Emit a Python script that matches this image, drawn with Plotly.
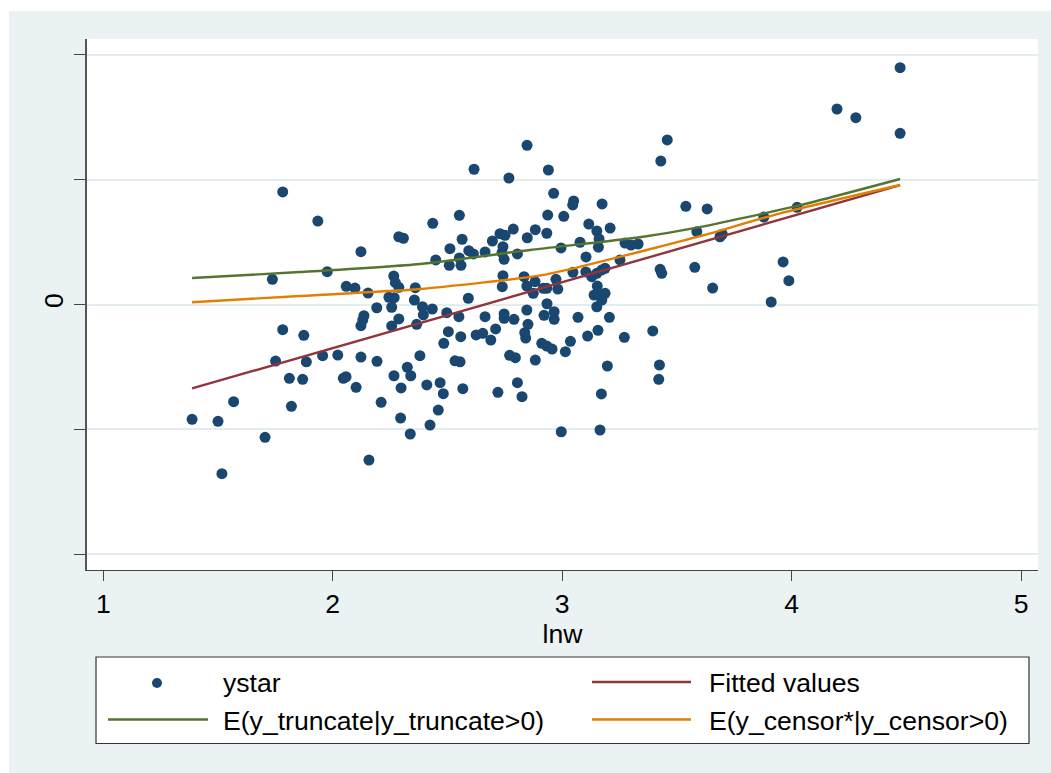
import plotly.graph_objects as go

# ---------------- data ----------------
lnw = [
    1.782, 1.935, 2.123, 2.288, 2.308, 1.976, 1.737, 2.059, 2.097, 2.154, 2.266, 2.273, 2.288, 2.245, 2.268,
    2.360, 2.356, 2.192, 2.257, 2.136, 2.131, 2.123, 2.288, 2.257, 2.366, 1.782, 1.874, 1.751, 1.885, 1.956,
    2.022, 2.123, 2.193, 2.380, 1.811, 1.869, 2.046, 2.058, 2.102, 2.267, 2.325, 2.340, 2.298, 1.568, 1.820,
    2.211, 1.387, 1.500, 1.705, 2.296, 2.338, 2.158, 1.517,
    2.847, 2.616, 2.940, 2.768, 2.963, 3.050, 3.046, 3.174, 2.436, 2.552, 2.937, 3.007, 3.116, 3.151, 3.209,
    3.161, 3.158, 3.078, 2.995, 2.933, 2.883, 2.848, 2.787, 2.729, 2.751, 2.696, 2.742, 2.738, 2.747, 2.805,
    2.664, 2.613, 2.593, 2.564, 2.511, 2.552, 2.559, 2.508, 2.449, 3.104, 3.252, 2.742, 2.739, 2.834, 2.846,
    2.882, 2.874, 2.918, 2.933, 2.973, 2.981, 2.591, 3.047, 3.103, 3.129, 3.151, 3.173, 3.187, 3.153, 3.139,
    3.165, 3.187, 3.151, 3.173, 3.206, 3.271, 3.197, 3.171, 3.165, 2.996, 2.391, 2.434, 2.395, 2.497, 2.550,
    2.504, 2.558, 2.484, 2.664, 2.747, 2.747, 2.790, 2.846, 2.851, 2.837, 2.841, 2.710, 2.625, 2.654, 2.689,
    2.934, 2.921, 2.965, 2.965, 3.069, 2.911, 2.933, 2.956, 3.014, 3.036, 3.111, 3.156, 2.771, 2.796, 2.883,
    2.533, 2.555, 2.410, 2.468, 2.482, 2.567, 2.720, 2.805, 2.825, 2.460, 2.424,
    4.473, 4.198, 4.280, 4.473, 3.458, 3.430, 3.539, 3.632, 4.024, 3.879, 3.587, 3.688, 3.698, 3.274, 3.300,
    3.331, 3.427, 3.434, 3.578, 3.656, 3.963, 3.988, 3.911, 3.395, 3.424, 3.421,
]
ystar = [
    0.902, 0.669, 0.423, 0.543, 0.531, 0.263, 0.202, 0.146, 0.132, 0.092, 0.228, 0.175, 0.138, 0.058, 0.055,
    0.135, 0.036, -0.026, -0.022, -0.090, -0.124, -0.170, -0.116, -0.172, -0.159, -0.202, -0.247, -0.453, -0.459, -0.410,
    -0.405, -0.421, -0.455, -0.410, -0.592, -0.600, -0.592, -0.579, -0.664, -0.571, -0.503, -0.571, -0.669, -0.779, -0.816,
    -0.784, -0.920, -0.936, -1.065, -0.910, -1.038, -1.247, -1.356,
    1.276, 1.084, 1.078, 1.014, 0.891, 0.830, 0.798, 0.806, 0.651, 0.715, 0.717, 0.707, 0.645, 0.589, 0.613,
    0.525, 0.459, 0.499, 0.453, 0.571, 0.600, 0.535, 0.605, 0.568, 0.555, 0.509, 0.463, 0.415, 0.362, 0.405,
    0.421, 0.405, 0.431, 0.523, 0.447, 0.373, 0.314, 0.314, 0.357, 0.381, 0.357, 0.231, 0.143, 0.223, 0.148,
    0.183, 0.090, 0.130, 0.130, 0.202, 0.124, 0.050, 0.258, 0.261, 0.223, 0.250, 0.277, 0.290, 0.148, 0.076,
    0.076, 0.090, -0.018, 0.036, -0.103, -0.263, -0.493, -0.717, -1.006, -1.020, -0.018, -0.036, -0.084, -0.066, -0.098,
    -0.218, -0.258, -0.311, -0.098, -0.076, -0.111, -0.119, -0.044, -0.159, -0.226, -0.269, -0.196, -0.244, -0.231, -0.285,
    0.006, -0.087, -0.058, -0.119, -0.103, -0.311, -0.333, -0.357, -0.378, -0.295, -0.253, -0.207, -0.407, -0.426, -0.445,
    -0.451, -0.459, -0.645, -0.627, -0.715, -0.675, -0.704, -0.627, -0.739, -0.846, -0.966,
    1.898, 1.567, 1.497, 1.372, 1.319, 1.150, 0.787, 0.766, 0.779, 0.701, 0.584, 0.543, 0.563, 0.493, 0.477,
    0.485, 0.282, 0.250, 0.298, 0.132, 0.341, 0.191, 0.020, -0.212, -0.485, -0.600,
]

fit_x = [1.387, 4.473]
fit_y = [-0.673, 0.956]

trunc_x = [1.387, 1.857, 2.381, 2.860, 3.339, 3.588, 4.024, 4.473]
trunc_y = [0.212, 0.260, 0.325, 0.437, 0.539, 0.616, 0.790, 1.006]

cens_x = [1.387, 1.857, 2.381, 2.900, 3.080, 3.339, 3.620, 3.950, 4.473]
cens_y = [0.018, 0.068, 0.124, 0.231, 0.303, 0.423, 0.557, 0.731, 0.958]

x_ticks = [1, 2, 3, 4, 5]
y_ticks = [-2, -1, 0, 1, 2]
y_ticktext = ["", "", "0", "", ""]
x_title = "lnw"

legend_names = ["ystar", "Fitted values", "E(y_truncate|y_truncate>0)", "E(y_censor*|y_censor>0)"]

# ---------------- styling ----------------
NAVY = "#1A476F"
MAROON = "#90353B"
GREEN = "#55752F"
ORANGE = "#E37E00"
BG = "#EAF2F3"
GRID = "#E3ECEF"
FONT = "Liberation Sans, Arial, sans-serif"
FS = 26.6

W, H = 1051, 773
L, R, T, B = 87, 13, 39, 203
PW, PH = W - L - R, H - T - B


def px(xp):
    return (xp - L) / PW


def py(yp):
    return (H - B - yp) / PH


fig = go.Figure()
fig.add_trace(go.Scatter(x=lnw, y=ystar, mode="markers", name=legend_names[0],
                         marker=dict(color=NAVY, size=11, line=dict(width=0))))
fig.add_trace(go.Scatter(x=fit_x, y=fit_y, mode="lines", name=legend_names[1],
                         line=dict(color=MAROON, width=2.4)))
fig.add_trace(go.Scatter(x=trunc_x, y=trunc_y, mode="lines", name=legend_names[2],
                         line=dict(color=GREEN, width=2.4, shape="spline", smoothing=0.6)))
fig.add_trace(go.Scatter(x=cens_x, y=cens_y, mode="lines", name=legend_names[3],
                         line=dict(color=ORANGE, width=2.4, shape="spline", smoothing=0.6)))

shapes = [
    # white outer margins
    dict(type="rect", xref="paper", yref="paper", x0=px(0), x1=px(W), y0=py(11), y1=py(0),
         fillcolor="white", line=dict(width=0), layer="below"),
    dict(type="rect", xref="paper", yref="paper", x0=px(0), x1=px(9), y0=py(H), y1=py(0),
         fillcolor="white", line=dict(width=0), layer="below"),
    # legend box
    dict(type="rect", xref="paper", yref="paper", x0=px(96), x1=px(1029), y0=py(743.5), y1=py(657),
         fillcolor="white", line=dict(color="#333333", width=1.2)),
    # legend symbols
    dict(type="circle", xref="paper", yref="paper", x0=px(152), x1=px(162), y0=py(688), y1=py(678),
         fillcolor=NAVY, line=dict(width=0)),
    dict(type="line", xref="paper", yref="paper", x0=px(592), x1=px(691), y0=py(682), y1=py(682),
         line=dict(color=MAROON, width=2.4)),
    dict(type="line", xref="paper", yref="paper", x0=px(108), x1=px(208), y0=py(719.5), y1=py(719.5),
         line=dict(color=GREEN, width=2.4)),
    dict(type="line", xref="paper", yref="paper", x0=px(592), x1=px(691), y0=py(719.5), y1=py(719.5),
         line=dict(color=ORANGE, width=2.4)),
]

annotations = []
for name, xp, yp in [(legend_names[0], 221, 683), (legend_names[1], 707, 683),
                     (legend_names[2], 221, 720.5), (legend_names[3], 707, 720.5)]:
    annotations.append(dict(text=name, xref="paper", yref="paper", x=px(xp), y=py(yp),
                            xanchor="left", yanchor="middle", showarrow=False,
                            font=dict(family=FONT, size=FS, color="black")))

fig.update_layout(
    width=W, height=H,
    margin=dict(l=L, r=R, t=T, b=B, autoexpand=False),
    paper_bgcolor=BG, plot_bgcolor="white",
    showlegend=False,
    font=dict(family=FONT, size=FS, color="black"),
    shapes=shapes, annotations=annotations,
    xaxis=dict(range=[0.929, 5.074], tickvals=x_ticks, ticks="outside", ticklen=10, tickwidth=1.3,
               tickcolor="#444444", showline=True, linecolor="#444444", linewidth=1.3,
               showgrid=False, zeroline=False, tickfont=dict(family=FONT, size=FS, color="black"),
               title=dict(text=x_title, font=dict(family=FONT, size=FS, color="black"), standoff=0)),
    yaxis=dict(range=[-2.128, 2.128], tickvals=y_ticks, ticktext=y_ticktext, tickangle=-90,
               ticks="outside", ticklen=11, tickwidth=1.3, tickcolor="#444444",
               showline=True, linecolor="#555555", linewidth=2,
               showgrid=True, gridcolor=GRID, gridwidth=2, zeroline=False,
               tickfont=dict(family=FONT, size=FS, color="black")),
)

fig.write_html("out.html")
